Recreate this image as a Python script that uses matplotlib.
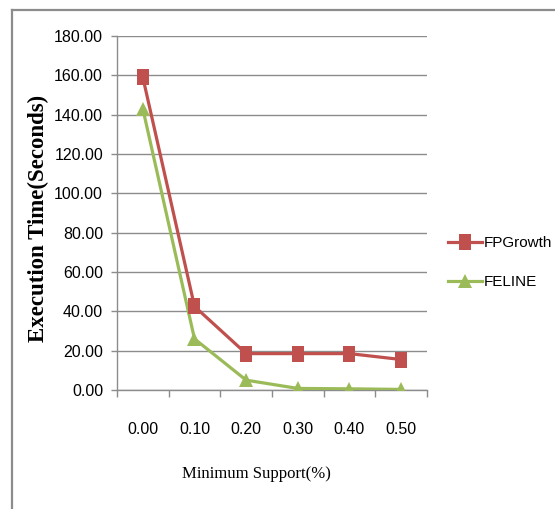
import matplotlib
matplotlib.use("Agg")
import matplotlib.pyplot as plt
from matplotlib.path import Path
from matplotlib.lines import Line2D
from matplotlib.ticker import FixedLocator, NullFormatter

# Data
support_labels = ["0.00", "0.10", "0.20", "0.30", "0.40", "0.50"]
fpgrowth_times = [159.0, 42.5, 18.5, 18.5, 18.5, 15.5]
feline_times = [143.0, 26.0, 5.0, 0.8, 0.6, 0.3]
y_ticks = [0, 20, 40, 60, 80, 100, 120, 140, 160, 180]

RED = "#C0504D"
GREEN = "#9BBB59"
GRID = "#8C8C8C"

sans = ["Liberation Sans Narrow", "Liberation Sans", "DejaVu Sans"]
serif = ["Liberation Serif", "DejaVu Serif"]

W, H = 555, 509
fig = plt.figure(figsize=(W / 100, H / 100), dpi=100)

# Outer chart frame (left and top edges visible)
fig.add_artist(Line2D([12 / W, 12 / W], [0, 1 - 10 / H], color=GRID, lw=1.6,
                      transform=fig.transFigure))
fig.add_artist(Line2D([12 / W, 1], [1 - 10 / H, 1 - 10 / H], color=GRID, lw=1.6,
                      transform=fig.transFigure))

ax_left, ax_top, ax_w, ax_h = 117, 36, 310, 354
ax = fig.add_axes([ax_left / W, 1 - (ax_top + ax_h) / H, ax_w / W, ax_h / H])

# Tall rectangle marker
tall_square = Path([(-0.37, -0.5), (0.37, -0.5), (0.37, 0.5), (-0.37, 0.5), (-0.37, -0.5)],
                   [Path.MOVETO, Path.LINETO, Path.LINETO, Path.LINETO, Path.CLOSEPOLY])

x = list(range(len(support_labels)))
ax.plot(x, fpgrowth_times, color=RED, lw=2.3, marker=tall_square, markersize=12,
        markeredgewidth=0, label="FPGrowth", zorder=4)
ax.plot(x, feline_times, color=GREEN, lw=2.3, marker="^", markersize=9.5,
        markeredgewidth=0, label="FELINE", zorder=3)

ax.set_xlim(-0.5, len(support_labels) - 0.5)
ax.set_ylim(0, 180)

ax.set_yticks(y_ticks)
ax.set_yticklabels([f"{v:.2f}" for v in y_ticks], family=sans, fontsize=11.5)
ax.yaxis.grid(True, color=GRID, lw=1.0)
ax.set_axisbelow(True)

ax.set_xticks(x)
ax.set_xticklabels(support_labels, family=sans, fontsize=11.5)
ax.tick_params(axis="x", which="major", length=0, pad=23)
ax.xaxis.set_minor_locator(FixedLocator([i - 0.5 for i in range(len(support_labels) + 1)]))
ax.xaxis.set_minor_formatter(NullFormatter())
ax.tick_params(axis="x", which="minor", length=5, color=GRID, width=1.0, direction="out")
ax.tick_params(axis="y", length=4, color=GRID, width=1.0, pad=6)

for s in ("top", "right"):
    ax.spines[s].set_visible(False)
for s in ("left", "bottom"):
    ax.spines[s].set_color(GRID)
    ax.spines[s].set_linewidth(1.0)

ax.set_xlabel("Minimum Support(%)", family=serif, fontsize=12)
ax.xaxis.set_label_coords((256 - ax_left) / ax_w, -(474 - ax_top - ax_h) / ax_h)
ax.xaxis.label.set_va("center")
ax.set_ylabel("Execution Time(Seconds)", family=serif, fontsize=16.5, fontweight="bold")
ax.yaxis.set_label_coords(-(ax_left - 38) / ax_w, (ax_top + ax_h - 218) / ax_h)
ax.yaxis.label.set_va("center")

leg = ax.legend(loc="center left", bbox_to_anchor=(448 / W, 1 - 262.5 / H),
                bbox_transform=fig.transFigure, frameon=False,
                prop={"family": sans, "size": 11}, handlelength=2.2,
                handletextpad=0.15, labelspacing=1.65, borderaxespad=0, borderpad=0)

fig.savefig("out.png", dpi=100)
